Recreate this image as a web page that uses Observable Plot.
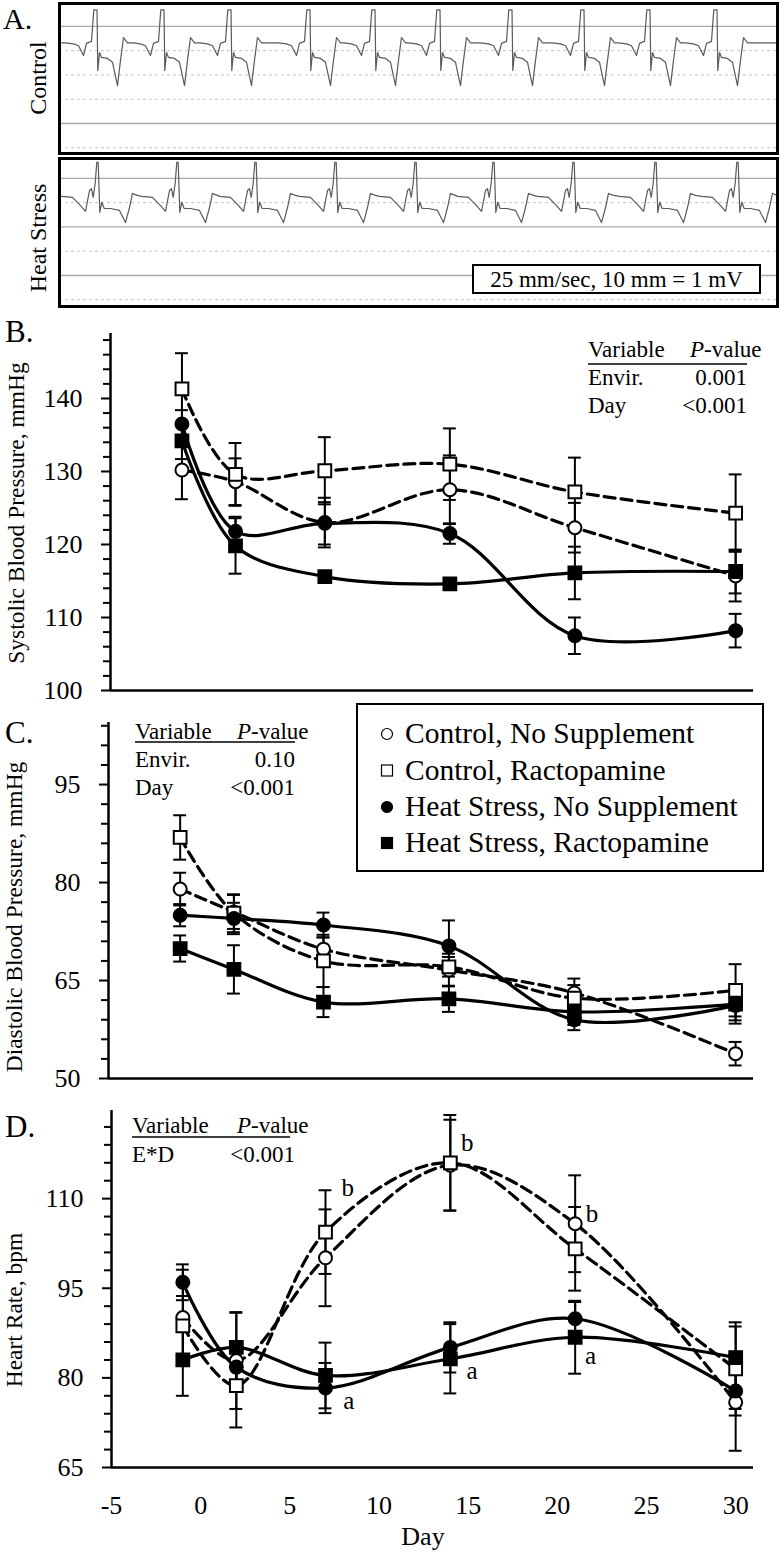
<!DOCTYPE html>
<html><head><meta charset="utf-8">
<script src="https://cdn.jsdelivr.net/npm/d3@7"></script>
<script src="https://cdn.jsdelivr.net/npm/@observablehq/plot@0.6"></script>
<style>
html,body{margin:0;padding:0;background:#fff;}
#fig{position:relative;width:780px;height:1554px;background:#fff;overflow:hidden;}
</style></head><body><div id="fig"></div>
<script>
// ---------------- DATA ----------------
const days = [-1, 2, 7, 14, 21, 30];
const groups = ["Control, No Supplement", "Control, Ractopamine", "Heat Stress, No Supplement", "Heat Stress, Ractopamine"];

// Panel B: systolic blood pressure, mmHg (mean, SE)
const sbpCN = [130.2, 128.6, 123.0, 127.5, 122.3, 115.7];
const sbpCNse = [4.0, 3.2, 3.4, 4.7, 3.4, 3.5];
const sbpCR = [141.3, 129.6, 130.1, 131.0, 127.2, 124.3];
const sbpCRse = [4.9, 4.3, 4.6, 4.9, 4.7, 5.3];
const sbpHN = [136.5, 121.8, 122.9, 121.5, 107.5, 108.2];
const sbpHNse = [1.9, 2.0, 2.9, 1.4, 2.5, 2.3];
const sbpHR = [134.2, 119.8, 115.6, 114.6, 116.1, 116.3];
const sbpHRse = [2.5, 3.8, 0.6, 0.6, 3.6, 3.0];

// Panel C: diastolic blood pressure, mmHg
const dbpCN = [79.0, 75.5, 69.8, 66.6, 63.1, 53.8];
const dbpCNse = [2.5, 2.6, 1.8, 2.5, 2.2, 1.8];
const dbpCR = [86.9, 75.3, 68.0, 67.1, 62.3, 63.5];
const dbpCRse = [3.4, 2.9, 4.0, 1.5, 2.0, 4.0];
const dbpHN = [75.0, 74.5, 73.5, 70.3, 59.0, 61.2];
const dbpHNse = [1.7, 2.4, 1.9, 3.9, 1.6, 2.3];
const dbpHR = [69.9, 66.7, 61.7, 62.2, 60.2, 61.4];
const dbpHRse = [2.0, 3.7, 2.3, 2.0, 2.0, 3.0];

// Panel D: heart rate, bpm
const hrCN = [90.1, 82.9, 100.1, 115.6, 105.8, 75.9];
const hrCNse = [8.0, 8.1, 8.1, 7.6, 8.1, 8.1];
const hrCR = [88.7, 78.7, 104.4, 116.0, 101.6, 81.5];
const hrCRse = [5.0, 7.0, 7.0, 8.0, 7.0, 7.8];
const hrHN = [96.0, 81.8, 78.3, 85.1, 89.9, 77.8];
const hrHNse = [3.0, 3.0, 4.2, 4.2, 2.8, 3.0];
const hrHR = [83.0, 85.1, 80.4, 83.2, 86.8, 83.4];
const hrHRse = [6.0, 5.8, 5.5, 5.8, 6.1, 5.2];

// significance letters in panel D (day position, bpm position, letter)
const hrLetterDay = [7.9, 14.6, 21.6, 8.0, 14.9, 21.55];
const hrLetterVal = [111.8, 119.3, 107.4, 76.1, 81.1, 83.6];
const hrLetterTxt = ["b", "b", "b", "a", "a", "a"];

// axis ticks
const dayTicks = [-5, 0, 5, 10, 15, 20, 25, 30];
const sbpMajor = [100, 110, 120, 130, 140];
const sbpMinor = [102,104,106,108,112,114,116,118,122,124,126,128,132,134,136,138,142,144,146,148];
const dbpMajor = [50, 65, 80, 95];
const dbpMinor = [53,56,59,62,68,71,74,77,83,86,89,92,98,101,104];
const hrMajor = [65, 80, 95, 110];
const hrMinor = [68,71,74,77,83,86,89,92,98,101,104,107,113,116,119,122];

// P-value tables
const sbpStats = [["Envir.", "0.001"], ["Day", "<0.001"]];
const dbpStats = [["Envir.", "0.10"], ["Day", "<0.001"]];
const hrStats = [["E*D", "<0.001"]];

// Panel A: ECG strips (strip position of R peaks; one beat shape per strip, mV)
const ctrlR = [36, 103, 170, 249, 314, 379, 451, 523, 589, 656];
const ctrlBeat = [[-30,1.66],[-22,1.64],[-17,1.60],[-12,1.40],[-9,1.65],[-4,1.69],[-1.7,2.34],[1.5,2.34],[2.3,1.09],[4,1.46],[6,1.36],[12,1.34],[17,1.26],[22,0.78],[25,1.30],[28,1.77],[32,1.66]];
const ctrlLevel = [1.66, 1.66];
const heatR = [38, 118, 196, 276, 356, 434, 514, 596, 678];
const heatBeat = [[-36,1.63],[-25,1.61],[-17,1.44],[-12,1.32],[-8,1.75],[-6,1.79],[-4.3,1.61],[-2.3,1.90],[-0.7,2.33],[0.7,2.33],[2.3,1.30],[4.3,1.51],[6.7,1.38],[13,1.38],[22,1.34],[28,1.09],[32,1.40],[35,1.69],[40,1.65]];
const heatLevel = [1.63, 1.65];
const ctrlGridStrong = [2.0, 0];
const ctrlGridFaint = [1.5, 1.0, 0.5, -0.5];
const heatGridStrong = [2.0, 1.0, 0];
const heatGridFaint = [1.5, 0.5, -0.5];

// ---------------- BUILD ----------------
const FONT = '"Liberation Serif","Times New Roman",Times,serif';
const fig = document.getElementById("fig");
const style = {
  "Control, No Supplement": {dash: "11,6", symbol: "circle", r: 6.5, fill: "white"},
  "Control, Ractopamine": {dash: "11,6", symbol: "square", r: 7.2, fill: "white"},
  "Heat Stress, No Supplement": {dash: null, symbol: "circle", r: 6.5, fill: "black"},
  "Heat Stress, Ractopamine": {dash: null, symbol: "square", r: 7.2, fill: "black"}
};
function table(series) {
  const out = [];
  series.forEach(([vals, ses], gi) => days.forEach((d, i) => out.push({group: groups[gi], day: d, value: vals[i], se: ses[i]})));
  return out;
}
function place(svg, top) {
  svg.style.position = "absolute";
  svg.style.left = "0px";
  svg.style.top = top + "px";
  svg.style.background = "transparent";
  svg.style.maxWidth = "none";
  fig.appendChild(svg);
}

// ECG strips
function trace(rs, beat, level) {
  const pts = [{x: 0, y: level[0]}];
  for (const r of rs) for (const [dt, v] of beat) pts.push({x: r + dt, y: v});
  pts.push({x: 718, y: level[1]});
  return pts;
}
function ecg(top, height, mt, mb, ydom, pts, strong, faint) {
  return place(Plot.plot({
    width: 780, height, marginLeft: 59, marginRight: 3, marginTop: mt, marginBottom: mb,
    style: {background: "transparent"},
    x: {domain: [0, 718], axis: null}, y: {domain: ydom, axis: null},
    marks: [
      Plot.ruleY(faint, {stroke: "#c4c4c4", strokeWidth: 1, strokeDasharray: "3,3"}),
      Plot.ruleY(strong, {stroke: "#a8a8a8", strokeWidth: 1.4}),
      Plot.line(pts, {x: "x", y: "y", stroke: "#5a5a5a", strokeWidth: 1.2, clip: true}),
      Plot.frame({stroke: "black", strokeWidth: 3})
    ]
  }), top);
}
ecg(0, 156, 3, 3, [-0.617, 2.47], trace(ctrlR, ctrlBeat, ctrlLevel), ctrlGridStrong, ctrlGridFaint);
ecg(155, 153, 3, 2, [-0.64, 2.41], trace(heatR, heatBeat, heatLevel), heatGridStrong, heatGridFaint);

// line panels
const CAP = 0.36;
function panel({data, top, height, mt, mb, ml, ydom, major, minor, xAxis, extra = []}) {
  const marks = [
    Plot.ruleX(data, {x: "day", y1: d => d.value - d.se, y2: d => d.value + d.se, stroke: "black", strokeWidth: 2}),
    Plot.ruleY(data, {y: d => d.value + d.se, x1: d => d.day - CAP, x2: d => d.day + CAP, stroke: "black", strokeWidth: 2}),
    Plot.ruleY(data, {y: d => d.value - d.se, x1: d => d.day - CAP, x2: d => d.day + CAP, stroke: "black", strokeWidth: 2})
  ];
  for (const g of groups) {
    const s = style[g];
    marks.push(Plot.line(data.filter(d => d.group === g), {x: "day", y: "value", curve: "catmull-rom", stroke: "black", strokeWidth: 3.2, strokeDasharray: s.dash}));
  }
  for (const g of groups) {
    const s = style[g];
    marks.push(Plot.dot(data.filter(d => d.group === g), {x: "day", y: "value", symbol: s.symbol, r: s.r, fill: s.fill, stroke: "black", strokeWidth: 2}));
  }
  marks.push(
    Plot.ruleX([-5], {stroke: "black", strokeWidth: 2.5}),
    Plot.ruleY([ydom[0]], {stroke: "black", strokeWidth: 2.5}),
    Plot.axisY(major, {tickSize: 9, tickPadding: 19, strokeWidth: 2, fontSize: 26, tickFormat: d => String(d), label: null}),
    Plot.axisY(minor, {tickSize: 7, tickPadding: 0, strokeWidth: 2, tickFormat: () => "", label: null})
  );
  if (xAxis) marks.push(Plot.axisX(dayTicks, {tickSize: 0, tickPadding: 28, fontSize: 26, tickFormat: d => String(d), label: null}));
  marks.push(...extra);
  place(Plot.plot({
    width: 780, height, marginLeft: ml, marginRight: 27, marginTop: mt, marginBottom: mb,
    style: {background: "transparent", fontFamily: FONT, fontSize: "26px", color: "black"},
    x: {domain: [-5, 31], axis: xAxis ? undefined : null, label: null},
    y: {domain: ydom, label: null},
    marks
  }), top);
}

panel({data: table([[sbpCN, sbpCNse], [sbpCR, sbpCRse], [sbpHN, sbpHNse], [sbpHR, sbpHRse]]),
  top: 310, height: 400, mt: 23, mb: 20, ml: 110, ydom: [100, 148.9], major: sbpMajor, minor: sbpMinor, xAxis: false});
panel({data: table([[dbpCN, dbpCNse], [dbpCR, dbpCRse], [dbpHN, dbpHNse], [dbpHR, dbpHRse]]),
  top: 700, height: 400, mt: 22, mb: 22, ml: 108, ydom: [50, 104.5], major: dbpMajor, minor: dbpMinor, xAxis: false});
const letters = hrLetterTxt.map((t, i) => ({day: hrLetterDay[i], value: hrLetterVal[i], t}));
panel({data: table([[hrCN, hrCNse], [hrCR, hrCRse], [hrHN, hrHNse], [hrHR, hrHRse]]),
  top: 1090, height: 464, mt: 20, mb: 87, ml: 111, ydom: [65, 124.75], major: hrMajor, minor: hrMinor, xAxis: true,
  extra: [Plot.text(letters, {x: "day", y: "value", text: "t", textAnchor: "start", fontSize: 25, fill: "black"})]});

// ---------------- ANNOTATION OVERLAY ----------------
const ov = d3.create("svg").attr("width", 780).attr("height", 1554)
  .style("position", "absolute").style("left", "0px").style("top", "0px")
  .attr("font-family", FONT).attr("fill", "black");
function txt(x, y, s, size, anchor = "start", transform = null) {
  const t = ov.append("text").attr("x", x).attr("y", y).attr("font-size", size).attr("text-anchor", anchor).text(s);
  if (transform) t.attr("transform", transform).attr("x", 0).attr("y", 0);
  return t;
}
// panel letters
txt(3, 29, "A.", 30); txt(5, 342, "B.", 31); txt(5, 743, "C.", 31); txt(5, 1137, "D.", 31);
// strip labels
txt(0, 0, "Control", 24, "middle", "translate(46,78) rotate(-90)");
txt(0, 0, "Heat Stress", 24, "middle", "translate(46,238) rotate(-90)");
ov.append("rect").attr("x", 473).attr("y", 265).attr("width", 287).attr("height", 28).attr("fill", "white").attr("stroke", "black").attr("stroke-width", 2);
txt(616.5, 287, "25 mm/sec, 10 mm = 1 mV", 23, "middle");
// axis titles
txt(0, 0, "Systolic Blood Pressure, mmHg", 23.5, "middle", "translate(23.5,513) rotate(-90)");
txt(0, 0, "Diastolic Blood Pressure, mmHg", 23.5, "middle", "translate(22,917) rotate(-90)");
txt(0, 0, "Heart Rate, bpm", 23.5, "middle", "translate(22,1310) rotate(-90)");
txt(423, 1545, "Day", 26, "middle");
// P-value tables
function pTable(x, px, base, uy, ux2, valX, gap, rows) {
  const t = ov.append("text").attr("x", x).attr("y", base).attr("font-size", 23);
  t.append("tspan").text("Variable");
  t.append("tspan").attr("x", px).attr("font-style", "italic").text("P");
  t.append("tspan").text("-value");
  ov.append("line").attr("x1", x).attr("x2", ux2).attr("y1", uy).attr("y2", uy).attr("stroke", "black").attr("stroke-width", 1.5);
  rows.forEach(([name, val], i) => {
    txt(x, base + gap * (i + 1), name, 23);
    txt(valX, base + gap * (i + 1), val, 23, "end");
  });
}
pTable(588, 690, 357, 364, 747, 747, 28, sbpStats);
pTable(135, 237, 739, 742, 295, 295, 28, dbpStats);
pTable(132, 237, 1133, 1137, 290, 295, 29, hrStats);
// legend
ov.append("rect").attr("x", 357).attr("y", 704).attr("width", 406).attr("height", 167).attr("fill", "white").attr("stroke", "black").attr("stroke-width", 2);
const legBase = [743, 779.5, 816, 852];
groups.forEach((g, i) => {
  const s = style[g], cy = legBase[i] - 9;
  if (s.symbol === "circle") ov.append("circle").attr("cx", 387).attr("cy", cy).attr("r", 5.5).attr("fill", s.fill).attr("stroke", "black").attr("stroke-width", 1.2);
  else ov.append("rect").attr("x", 381.5).attr("y", cy - 5.5).attr("width", 11).attr("height", 11).attr("fill", s.fill).attr("stroke", "black").attr("stroke-width", 1.2);
  txt(405, legBase[i], g, 29.5);
});
fig.appendChild(ov.node());
</script></body></html>
